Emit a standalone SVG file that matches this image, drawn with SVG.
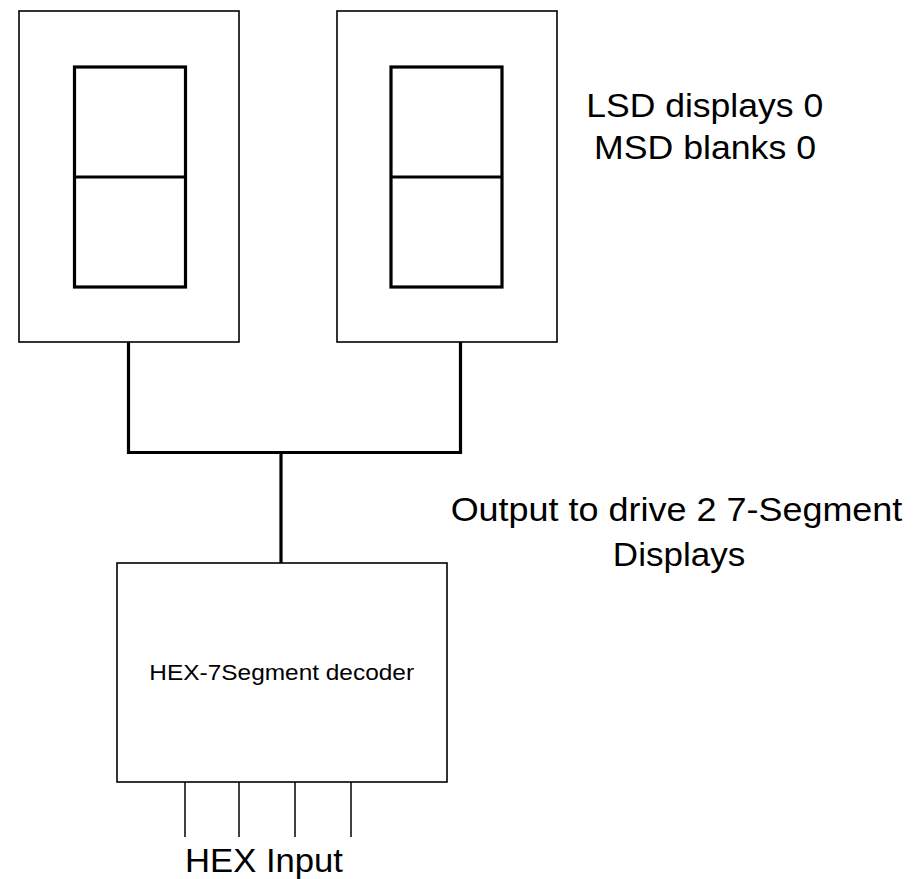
<svg xmlns="http://www.w3.org/2000/svg" width="916" height="879" viewBox="0 0 916 879">
<style>
.outer{fill:#fff;stroke:#000;stroke-width:1.6}
.inner{fill:none;stroke:#000;stroke-width:3.2}
.wire{fill:none;stroke:#000;stroke-width:3.2}
.pin{fill:none;stroke:#000;stroke-width:1.5}
text{font-family:"Liberation Sans",Arial,sans-serif;fill:#000;text-anchor:middle}
</style>
<rect width="916" height="879" fill="#fff"/>
<g id="connectors">
<polyline class="wire" points="128.5,342 128.5,452.5 460.5,452.5 460.5,342"/>
<line class="wire" x1="281" y1="452.5" x2="281" y2="563"/>
<line class="pin" x1="185" y1="782" x2="185" y2="837"/>
<line class="pin" x1="239" y1="782" x2="239" y2="837"/>
<line class="pin" x1="295" y1="782" x2="295" y2="837"/>
<line class="pin" x1="351" y1="782" x2="351" y2="837"/>
</g>
<g id="display-msd">
<rect class="outer" x="19" y="11" width="220" height="331"/>
<rect class="inner" x="74.5" y="67" width="111" height="220"/>
<line class="inner" x1="74.5" y1="177" x2="185.5" y2="177"/>
</g>
<g id="display-lsd">
<rect class="outer" x="337" y="11" width="220" height="331"/>
<rect class="inner" x="391" y="67" width="111" height="220"/>
<line class="inner" x1="391" y1="177" x2="502" y2="177"/>
</g>
<g id="decoder">
<rect class="outer" x="117" y="563" width="330" height="219"/>
<text x="281.7" y="680" font-size="22.5" textLength="264.7" lengthAdjust="spacingAndGlyphs">HEX-7Segment decoder</text>
</g>
<g id="label-status">
<text x="704.7" y="116.7" font-size="34" textLength="237" lengthAdjust="spacingAndGlyphs">LSD displays 0</text>
<text x="705" y="159.3" font-size="34" textLength="222" lengthAdjust="spacingAndGlyphs">MSD blanks 0</text>
</g>
<g id="label-output">
<text x="676.5" y="520.7" font-size="34" textLength="451.7" lengthAdjust="spacingAndGlyphs">Output to drive 2 7-Segment</text>
<text x="679" y="566" font-size="34" textLength="132.3" lengthAdjust="spacingAndGlyphs">Displays</text>
</g>
<g id="label-input">
<text x="264" y="872" font-size="33" textLength="158" lengthAdjust="spacingAndGlyphs">HEX Input</text>
</g>
</svg>
